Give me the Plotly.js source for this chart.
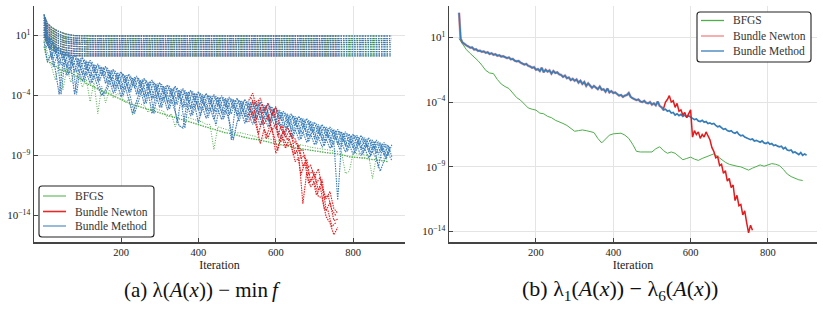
<!DOCTYPE html>
<html><head><meta charset="utf-8">
<script src="https://cdn.plot.ly/plotly-3.0.1.min.js"></script>
<style>html,body{margin:0;padding:0;background:#fff;}#chart{width:823px;height:325px;}</style>
</head><body><div id="chart"></div>
<script>
function seq(a,b,s){const r=[];for(let v=a;v<=b+1e-9;v+=s)r.push(v);return r;}
const pow10 = a => a.map(v => Math.pow(10, v));

// ---------- iteration grids ----------
const iterL = [1].concat(seq(10,900,10));
const iterL2 = seq(5,895,10);
const iterLbfgs = [1].concat(seq(10,890,10));
const iterLnewtonTail = seq(530,760,10);
const iterLnewtonTail2 = seq(535,755,10);
const iterR = [1,2,3].concat(seq(5,900,5));
const iterRnewtonTail = seq(530,760,5);
const endIter = {bfgs: 890, newton: 760, bundle: 900};

// ---------- left panel: log10 of lambda_i(A(x)) - min f ----------
const bundleA = [2.8,0.3,0.8,-0.5,0.0,-1.0,-0.3,-1.4,-0.6,-1.6,
 -0.8,-1.85,-1.05,-2.1,-1.35,-2.35,-1.55,-2.55,-1.8,-2.8,
 -2.0,-3.0,-2.2,-3.2,-2.35,-3.35,-2.55,-3.5,-2.7,-3.7,
 -2.9,-3.9,-3.1,-4.05,-3.2,-4.2,-3.4,-4.4,-3.55,-4.5,
 -3.67,-4.65,-3.8,-4.75,-3.9,-4.85,-4.0,-4.95,-4.1,-5.05,
 -4.2,-5.15,-4.3,-5.25,-4.45,-5.4,-4.55,-5.5,-4.7,-5.7,
 -5.0,-6.0,-5.3,-6.3,-5.5,-6.5,-5.7,-6.7,-5.9,-6.9,
 -6.2,-7.2,-6.4,-7.4,-6.6,-7.6,-6.8,-7.8,-7.0,-8.0,
 -7.2,-8.15,-7.3,-8.3,-7.5,-8.5,-7.7,-8.7,-7.9,-8.9,
 -8.1];
const bundleB = [1.5,1.0,-0.9,0.2,-1.4,-0.3,-1.7,-0.6,-2.0,-0.9,
 -2.3,-1.1,-2.5,-1.4,-2.8,-1.6,-3.0,-1.9,-3.3,-2.1,
 -3.5,-2.3,-3.7,-2.5,-3.9,-2.7,-4.1,-2.9,-4.3,-3.0,
 -4.4,-3.2,-4.6,-3.4,-4.8,-3.5,-5.0,-3.7,-5.1,-3.8,
 -5.2,-3.9,-5.3,-4.0,-5.4,-4.1,-5.5,-4.2,-5.6,-4.3,
 -5.7,-4.4,-5.8,-4.5,-5.9,-4.6,-6.0,-4.8,-6.1,-4.9,
 -6.3,-5.2,-6.7,-5.5,-7.0,-5.7,-7.2,-5.9,-7.4,-6.1,
 -7.6,-6.4,-7.8,-6.6,-7.9,-6.8,-8.1,-7.0,-8.2,-7.2,
 -8.4,-7.3,-8.5,-7.5,-8.7,-7.7,-8.8,-7.9,-9.0,-8.1,
 -9.1];
const bundleC = [0.5,-1.2,-0.4,-1.8,-3.9,-1.2,-2.3,-1.5,-3.9,-1.8,
 -2.8,-2.0,-3.0,-2.3,-3.3,-4.0,-3.5,-2.7,-3.8,-3.0,
 -4.1,-3.2,-4.3,-5.5,-4.45,-3.5,-4.7,-3.7,-5.5,-3.9,
 -5.0,-4.1,-5.2,-4.3,-5.35,-6.5,-6.7,-4.6,-5.7,-4.7,
 -6.3,-4.9,-5.9,-5.0,-6.0,-5.1,-6.0,-5.2,-6.1,-7.7,
 -6.2,-5.3,-6.3,-5.5,-6.4,-5.6,-6.5,-5.7,-6.6,-5.9,
 -6.8,-6.2,-7.2,-6.5,-7.5,-6.8,-7.7,-7.0,-7.9,-7.2,
 -8.1,-7.4,-8.3,-7.6,-8.4,-7.8,-12.7,-7.9,-8.7,-8.1,
 -8.9,-8.2,-9.0,-8.4,-9.2,-8.6,-9.3,-10.3,-9.4,-8.8,
 -9.4];
const bundleD = [1.9,-0.2,0.5,-0.85,-0.15,-1.2,-0.5,-1.52,-0.75,-1.72,
 -1.0,-1.98,-1.2,-2.25,-1.5,-2.48,-1.7,-2.7,-1.95,-2.98,
 -2.15,-3.2,-2.35,-3.35,-2.5,-3.58,-2.7,-3.75,-2.85,-3.92,
 -3.05,-4.1,-3.2,-4.25,-3.35,-4.45,-3.55,-4.6,-3.65,-4.7,
 -3.8,-4.82,-3.95,-4.95,-4.05,-5.0,-4.15,-5.1,-4.25,-5.2,
 -4.35,-5.3,-4.45,-5.4,-4.6,-5.52,-4.7,-5.62,-4.85,-5.8,
 -5.15,-6.15,-5.45,-6.45,-5.65,-6.65,-5.85,-6.85,-6.05,-7.08,
 -6.35,-7.3,-6.55,-7.48,-6.75,-7.65,-6.95,-7.8,-7.15,-8.0,
 -7.3,-8.12,-7.45,-8.28,-7.65,-8.45,-7.85,-8.6,-8.05,-8.72];
const bundleE = [0.6,0.85,-0.95,0.05,-1.45,-0.35,-1.78,-0.7,-2.02,-0.9,
 -2.28,-1.15,-2.48,-1.45,-2.78,-1.65,-2.98,-1.85,-3.25,-2.1,
 -3.5,-2.3,-3.7,-2.45,-3.88,-2.65,-4.08,-2.8,-4.25,-3.0,
 -4.42,-3.2,-4.58,-3.35,-4.75,-3.5,-4.95,-3.65,-5.04,-3.8,
 -5.15,-3.95,-5.3,-4.05,-5.38,-4.15,-5.45,-4.25,-5.55,-4.35,
 -5.65,-4.45,-5.75,-4.55,-5.88,-4.7,-5.98,-4.8,-6.1,-5.05,
 -6.42,-5.35,-6.72,-5.6,-6.95,-5.8,-7.15,-6.0,-7.35,-6.25,
 -7.6,-6.5,-7.78,-6.7,-7.95,-6.9,-8.12,-7.1,-8.3,-7.3,
 -8.45,-7.45,-8.58,-7.6,-8.75,-7.8,-8.92,-8.0,-9.08,-8.2];
const bundleF = [0.1,0.0,-1.6,-0.65,-3.9,-1.0,-2.25,-1.32,-3.9,-1.52,
 -2.75,-1.78,-2.95,-2.05,-3.25,-4.0,-3.45,-2.5,-3.75,-2.78,
 -4.05,-3.0,-4.25,-5.5,-4.45,-3.38,-4.65,-3.55,-5.5,-3.72,
 -5.0,-3.9,-5.15,-4.05,-6.3,-4.25,-6.7,-4.4,-5.62,-4.5,
 -5.7,-4.62,-5.85,-4.75,-6.5,-4.8,-5.95,-4.9,-7.7,-5.0,
 -6.15,-5.1,-6.25,-5.2,-6.35,-5.32,-6.45,-5.42,-6.55,-5.6,
 -6.9,-7.6,-7.2,-6.25,-7.45,-6.45,-7.65,-6.65,-7.85,-6.88,
 -8.05,-7.1,-8.2,-7.28,-8.35,-7.45,-8.5,-7.6,-8.65,-7.8,
 -8.8,-7.92,-8.9,-8.08,-9.05,-8.25,-10.0,-8.4,-9.3,-8.52];
const newtonTailA = [-4.4,-3.8,-4.9,-4.2,-5.2,-4.6,-5.6,-4.9,-6.5,-7.2,-6.6,-7.4,-7.6,-8.6,-8.5,-10.0,-9.8,-10.8,-10.1,-11.6,-12.6,-12.0,-13.4,-13.8];
const newtonTailB = [-5.6,-4.5,-6.0,-5.0,-6.4,-5.6,-6.9,-6.3,-7.8,-6.9,-7.7,-7.1,-8.9,-8.1,-9.9,-9.3,-11.2,-10.4,-11.9,-11.0,-13.6,-12.9,-14.4,-14.3];
const newtonTailC = [-6.2,-5.4,-6.6,-8.0,-6.8,-7.5,-6.7,-8.8,-7.9,-7.6,-8.2,-8.0,-9.5,-9.2,-13.0,-10.4,-11.6,-11.2,-12.4,-12.5,-14.1,-14.6,-15.6,-15.0];
const newtonTailD = [-4.2,-4.6,-4.4,-5.5,-4.9,-6.2,-5.1,-7.4,-6.4,-7.5,-6.9,-7.8,-8.0,-9.2,-9.0,-10.6,-10.3,-11.3,-10.8,-12.6,-12.3,-13.5,-14.0];
const newtonTailE = [-5.6,-5.2,-7.2,-6.0,-7.6,-6.4,-7.3,-8.6,-7.2,-8.4,-7.6,-8.9,-8.6,-10.6,-9.6,-11.3,-10.8,-12.3,-11.6,-13.4,-13.6,-14.9,-14.6];
const bfgsA = [0.1,-1.2,-1.3,-1.5,-1.8,-1.9,-2.0,-2.1,-2.3,-2.5,
 -2.7,-3.0,-3.1,-3.3,-3.45,-3.6,-3.75,-3.9,-4.05,-4.2,
 -4.35,-4.45,-4.6,-4.75,-4.85,-4.95,-5.05,-5.15,-5.25,-5.35,
 -5.45,-5.55,-5.6,-5.7,-5.8,-5.9,-6.0,-6.1,-6.2,-6.3,
 -6.4,-6.5,-6.6,-6.75,-6.85,-6.95,-7.0,-7.1,-7.15,-7.2,
 -7.3,-7.4,-7.5,-7.55,-7.6,-7.65,-7.75,-7.8,-7.85,-7.95,
 -8.0,-8.05,-8.1,-8.2,-8.25,-8.35,-8.4,-8.45,-8.55,-8.6,
 -8.65,-8.7,-8.75,-8.75,-8.8,-8.8,-8.85,-8.9,-9.0,-9.1,
 -9.1,-9.15,-9.2,-9.2,-9.3,-9.3,-9.35,-9.4,-9.45,-9.5];
const bfgsB = [0.6,-0.4,-1.6,-2.7,-1.4,-3.5,-1.7,-2.9,-2.0,-2.2,
 -3.3,-2.6,-4.5,-2.9,-5.5,-3.2,-4.6,-3.5,-4.2,-3.8,
 -4.0,-4.6,-4.3,-5.6,-4.5,-4.7,-4.8,-5.4,-5.0,-5.1,
 -5.2,-5.3,-5.9,-5.5,-6.6,-5.6,-5.7,-5.8,-5.9,-6.0,
 -6.1,-6.2,-6.4,-6.4,-8.5,-6.6,-6.7,-6.8,-6.9,-7.0,
 -7.1,-7.1,-7.2,-7.3,-7.35,-7.4,-7.8,-7.5,-7.6,-7.7,
 -7.75,-7.8,-7.85,-7.9,-7.95,-8.0,-8.1,-8.15,-8.2,-8.3,
 -8.35,-8.4,-8.45,-8.5,-8.55,-8.6,-8.65,-8.7,-10.5,-10.3,
 -8.8,-8.85,-8.9,-8.95,-9.0,-10.9,-9.1,-9.15,-9.2,-9.3];
// non-converging eigenvalues (flat band); last value is held to the end of each run
const flatIter = [1,5,10,20,35,55,80,120];
const flatLevels = [
 [2.7,2.3,2.0,1.7,1.4,1.15,1.0,0.97],
 [2.5,2.1,1.8,1.5,1.2,0.9,0.8,0.75],
 [2.3,1.9,1.6,1.3,1.0,0.75,0.62,0.58],
 [2.1,1.7,1.4,1.1,0.8,0.55,0.45,0.42],
 [1.9,1.5,1.2,0.9,0.6,0.4,0.3,0.25],
 [1.7,1.3,1.0,0.7,0.4,0.2,0.1,0.06],
 [1.5,1.1,0.8,0.5,0.2,0.0,-0.1,-0.14],
 [1.3,0.9,0.6,0.3,0.0,-0.2,-0.3,-0.33],
 [1.1,0.7,0.4,0.1,-0.2,-0.4,-0.5,-0.53],
 [0.9,0.5,0.2,-0.1,-0.4,-0.6,-0.67,-0.69]];

// ---------- right panel: log10 of lambda_1 - lambda_6 ----------
const bundleR = [2.9,2.0,1.0,
 0.9,0.6,0.45,0.38,0.3,0.2,0.22,0.05,0.08,-0.05,
 -0.02,-0.12,-0.08,-0.2,-0.15,-0.28,-0.22,-0.35,-0.3,-0.42,
 -0.38,-0.48,-0.45,-0.55,-0.6,-0.55,-0.7,-0.66,-0.8,-0.85,
 -0.82,-0.95,-1.0,-1.1,-1.05,-1.2,-1.25,-1.35,-1.3,-1.5,
 -1.45,-1.6,-1.35,-1.7,-1.5,-1.65,-1.55,-1.8,-1.6,-1.75,
 -1.7,-1.85,-1.9,-2.05,-1.95,-2.15,-2.1,-2.3,-2.2,-2.35,
 -2.25,-2.5,-2.35,-2.6,-2.45,-2.75,-2.55,-2.7,-2.9,-2.75,
 -2.85,-3.0,-2.8,-3.05,-3.0,-3.2,-2.95,-3.25,-3.15,-3.3,
 -3.25,-3.4,-3.5,-3.45,-3.6,-3.5,-3.45,-3.3,-3.6,-3.7,
 -3.75,-3.85,-3.8,-3.95,-4.0,-3.9,-4.05,-4.1,-4.0,-4.2,
 -4.1,-4.25,-3.95,-4.3,-4.4,-4.6,-4.55,-4.7,-4.65,-4.85,
 -4.8,-5.0,-4.9,-5.05,-4.95,-5.1,-5.0,-5.15,-5.05,-5.15,
 -5.25,-5.35,-5.3,-5.45,-5.5,-5.4,-5.55,-5.5,-5.65,-5.6,
 -5.7,-5.65,-5.8,-5.9,-5.85,-6.0,-6.1,-6.05,-6.2,-6.25,
 -6.2,-6.35,-6.4,-6.3,-6.5,-6.6,-6.55,-6.7,-6.75,-6.85,
 -6.9,-6.85,-7.0,-6.95,-7.05,-7.1,-7.0,-7.15,-7.2,-7.1,
 -7.25,-7.2,-7.35,-7.3,-7.4,-7.45,-7.4,-7.6,-7.5,-7.7,
 -7.75,-7.7,-7.9,-7.85,-7.95,-8.05,-7.9,-8.1,-8.0,-8.1];
const newtonTailR = [-4.5,-4.0,-3.8,-3.5,-4.0,-3.9,-4.4,-4.1,-4.7,-4.6,
 -5.0,-4.8,-5.2,-4.9,-4.6,-6.7,-6.2,-6.5,-6.3,-6.8,
 -6.5,-6.7,-6.3,-6.6,-6.9,-7.5,-7.8,-8.3,-8.2,-8.9,
 -8.8,-9.5,-9.3,-10.1,-9.9,-10.6,-10.4,-11.6,-11.2,-12.0,
 -11.9,-12.7,-12.4,-13.3,-14.1,-13.5,-13.9];
const bfgsR = [0.9,0.5,0.05,-0.25,-0.5,-0.8,-1.15,-1.55,-1.75,-1.8,
 -2.25,-2.6,-2.8,-2.95,-3.3,-3.65,-3.85,-4.15,-4.45,-4.55,
 -4.62,-4.85,-4.9,-5.1,-5.2,-5.4,-5.5,-5.65,-5.8,-6.0,
 -6.25,-6.2,-6.15,-6.2,-6.25,-6.35,-6.8,-7.15,-6.85,-6.55,
 -6.45,-6.4,-6.4,-6.55,-6.8,-7.25,-7.8,-7.85,-7.85,-7.9,
 -7.85,-7.6,-7.45,-7.75,-7.95,-7.85,-7.95,-8.2,-8.45,-8.35,
 -8.25,-8.4,-8.5,-8.35,-8.25,-8.1,-8.0,-8.2,-8.45,-8.65,
 -8.8,-8.9,-8.95,-9.0,-9.15,-9.25,-9.1,-8.95,-8.85,-8.95,
 -8.85,-8.75,-8.8,-8.9,-9.2,-9.55,-9.75,-9.9,-10.0,-10.05];

const methods = ['BFGS','Bundle Newton','Bundle Method'];
const xTickVals = [200,400,600,800];
const yTickVals = [1e1,1e-4,1e-9,1e-14];
const yTickText = ['10<sup>1</sup>','10<sup>−4</sup>','10<sup>−9</sup>','10<sup>−14</sup>'];
const captions = ['(a) λ(<i>A</i>(<i>x</i>))\u2005−\u2005min\u2009<i>f</i>',
                  '(b) λ<sub>1</sub>(<i>A</i>(<i>x</i>))\u2005−\u2005λ<sub>6</sub>(<i>A</i>(<i>x</i>))'];

// ---------- styling ----------
const C = {bfgs:'#4daf4a', newton:'#e41a1c', bundle:'#377eb8'};
const FONT = 'Liberation Serif';

function prefix(xs, ys, xmax){const x=[],y=[];for(let i=0;i<xs.length;i++){if(xs[i]<=xmax){x.push(xs[i]);y.push(ys[i]);}}return {x,y};}
function line(x, ylog, color, dash, width, ax){
  return {x:x, y:pow10(ylog), type:'scatter', mode:'lines', showlegend:false, hoverinfo:'skip',
    xaxis:ax[0], yaxis:ax[1], line:{color:color, dash:dash, width:width}};
}
const L=['x','y'], R=['x2','y2'];
const traces = [];
function flat(end, color, dash, w){
  flatLevels.forEach(v=>{
    traces.push(line(flatIter.concat([end]), v.concat([v[v.length-1]]), color, dash, w, L));
  });
}
// left panel (dotted)
flat(endIter.bfgs, C.bfgs, '1px,1.2px', 1.2);
traces.push(line(iterLbfgs, bfgsB, C.bfgs, '1px,1.5px', 1, L));
traces.push(line(iterLbfgs, bfgsA, C.bfgs, '1.5px,1px', 1.3, L));
flat(endIter.newton, 'rgba(140,60,110,0.7)', '1px,1px', 1.3);
[bundleA,bundleB,bundleC].forEach(s=>{const p=prefix(iterL,s,530);traces.push(line(p.x,p.y,'rgba(160,70,120,0.45)','1px,2px',1,L));});
flat(endIter.bundle, '#3a73ad', '1.5px,1.2px', 1.3);
[bundleA,bundleB,bundleC].forEach(s=>traces.push(line(iterL, s, C.bundle, '1.5px,1px', 1.1, L)));
[bundleD,bundleE,bundleF].forEach(s=>traces.push(line(iterL2, s, C.bundle, '1.5px,1px', 1.1, L)));
[newtonTailA,newtonTailB,newtonTailC].forEach(s=>traces.push(line(iterLnewtonTail, s, C.newton, '1.5px,1px', 1.1, L)));
[newtonTailD,newtonTailE].forEach(s=>traces.push(line(iterLnewtonTail2, s, C.newton, '1.5px,1px', 1.1, L)));
// right panel (solid)
traces.push(line(iterLbfgs, bfgsR, C.bfgs, 'solid', 1, R));
{const p=prefix(iterR,bundleR,530);traces.push(line(p.x,p.y,'rgba(228,26,28,0.4)','solid',2.6,R));}
traces.push(line(iterR, bundleR, C.bundle, 'solid', 1.7, R));
traces.push(line(iterRnewtonTail, newtonTailR, C.newton, 'solid', 1.5, R));

const W=823,H=325;
const px = v => v/W, py = v => 1 - v/H;

// ---------- hand-placed legends (boxes, samples, labels) ----------
const shapes = [], annotations = [];
function roundRect(x0,y0,x1,y1,r){
  const X=px, Y=py;
  return `M${X(x0+r)},${Y(y0)} L${X(x1-r)},${Y(y0)} Q${X(x1)},${Y(y0)} ${X(x1)},${Y(y0+r)} L${X(x1)},${Y(y1-r)} Q${X(x1)},${Y(y1)} ${X(x1-r)},${Y(y1)} L${X(x0+r)},${Y(y1)} Q${X(x0)},${Y(y1)} ${X(x0)},${Y(y1-r)} L${X(x0)},${Y(y0+r)} Q${X(x0)},${Y(y0)} ${X(x0+r)},${Y(y0)} Z`;
}
function legend(box, rows, lineX, textX, colors, lw){
  shapes.push({type:'path', xref:'paper', yref:'paper', path:roundRect(box[0],box[1],box[2],box[3],3),
    fillcolor:'white', line:{color:'#222', width:1.1}, layer:'above'});
  methods.forEach((m,i)=>{
    shapes.push({type:'line', xref:'paper', yref:'paper', x0:px(lineX[0]), x1:px(lineX[1]), y0:py(rows[i]), y1:py(rows[i]),
      line:{color:colors[i], width:lw}, layer:'above'});
    annotations.push({text:m, x:px(textX), y:py(rows[i]), xref:'paper', yref:'paper', xanchor:'left', yanchor:'middle',
      showarrow:false, font:{family:FONT, size:11.5, color:'#333'}});
  });
}
legend([39,186,154,237],[196,211.5,226],[43,66],73,['rgba(77,175,74,0.65)','#e8282a','rgba(55,126,184,0.65)'],1.6);
legend([697,12,811,62],[20.5,36,51],[701,724],731,[C.bfgs,'rgba(228,26,28,0.55)',C.bundle],1.3);
annotations.push({text:captions[0], x:px(202), y:py(290), xref:'paper', yref:'paper', xanchor:'center', yanchor:'middle', showarrow:false, font:{family:FONT,size:21,color:'#111'}});
annotations.push({text:captions[1], x:px(620), y:py(290), xref:'paper', yref:'paper', xanchor:'center', yanchor:'middle', showarrow:false, font:{family:FONT,size:22,color:'#111'}});

const xax = (d,r)=>({domain:d, range:r, tickmode:'array', tickvals:xTickVals, showgrid:true, gridcolor:'#e4e4e4', gridwidth:1,
  zeroline:false, showline:true, linecolor:'#444', linewidth:1.5, ticks:'inside', ticklen:4, tickcolor:'#444',
  tickfont:{family:FONT,size:10.5,color:'#222'}, title:{text:'Iteration', font:{family:FONT,size:12,color:'#222'}, standoff:0}});
const yax = (r,anchor)=>({domain:[1-242/H,1-6/H], type:'log', range:r, tickmode:'array', tickvals:yTickVals, ticktext:yTickText,
  showgrid:true, gridcolor:'#e4e4e4', gridwidth:1, zeroline:false, showline:true, linecolor:'#444', linewidth:1.5,
  ticks:'inside', ticklen:4, tickcolor:'#444', anchor:anchor, tickfont:{family:FONT,size:11,color:'#222'}});

const layout = {
  width:W, height:H, margin:{l:0,r:0,t:0,b:0}, paper_bgcolor:'white', plot_bgcolor:'white',
  hovermode:false, showlegend:false,
  xaxis: Object.assign(xax([34/W,405/W],[-25,934]),{anchor:'y'}),
  yaxis: yax([-16.2,3.47],'x'),
  xaxis2: Object.assign(xax([449/W,817/W],[-25,927]),{anchor:'y2'}),
  yaxis2: yax([-14.8,3.42],'x2'),
  shapes: shapes,
  annotations: annotations
};
Plotly.newPlot('chart', traces, layout, {staticPlot:true, displayModeBar:false});
</script></body></html>
